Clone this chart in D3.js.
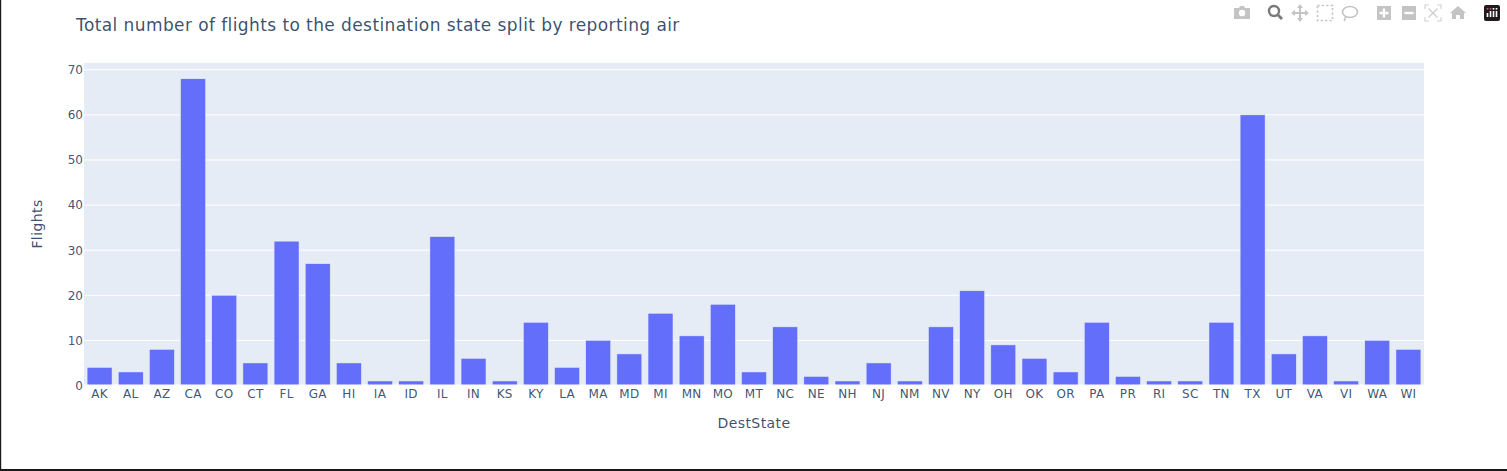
<!DOCTYPE html>
<html>
<head>
<meta charset="utf-8">
<script src="https://d3js.org/d3.v7.min.js"></script>
<style>
  html, body { margin: 0; padding: 0; background: #fff; overflow: hidden; }
  svg { display: block; }
  text { fill: #2a3f5f; fill-opacity: 0.92; }
</style>
</head>
<body>
<svg id="chart"></svg>
<script>
const states = ['AK','AL','AZ','CA','CO','CT','FL','GA','HI','IA','ID','IL','IN','KS','KY','LA','MA','MD','MI','MN','MO','MT','NC','NE','NH','NJ','NM','NV','NY','OH','OK','OR','PA','PR','RI','SC','TN','TX','UT','VA','VI','WA','WI'];
const flights = [4,3,8,68,20,5,32,27,5,1,1,33,6,1,14,4,10,7,16,11,18,3,13,2,1,5,1,13,21,9,6,3,14,2,1,1,14,60,7,11,1,10,8];
const yTicks = [0,10,20,30,40,50,60,70];

const width = 1507, height = 471;
const plot = { left: 84, right: 1424, top: 63, bottom: 385.5 };
const font = '"DejaVu Sans", verdana, sans-serif';

const svg = d3.select('#chart').attr('width', width).attr('height', height);

// page frame, only left and bottom edges show in the screenshot
svg.append('rect').attr('width', width).attr('height', height).attr('fill', '#fff');
svg.append('rect').attr('x', 0).attr('y', 0).attr('width', 1.2).attr('height', height).attr('fill', '#1a1a1a');
svg.append('rect').attr('x', 0).attr('y', 469).attr('width', width).attr('height', 2).attr('fill', '#1a1a1a');

const x = d3.scaleBand()
  .domain(states)
  .range([plot.left, plot.right])
  .paddingInner(0.2)
  .paddingOuter(0.1);

const y = d3.scaleLinear()
  .domain([0, 71.5])
  .range([plot.bottom, plot.top]);

svg.append('rect')
  .attr('x', plot.left).attr('y', plot.top)
  .attr('width', plot.right - plot.left).attr('height', plot.bottom - plot.top)
  .attr('fill', '#e5ecf6');

// gridlines
svg.append('g').selectAll('line')
  .data(yTicks.filter(d => d > 0))
  .enter().append('line')
  .attr('x1', plot.left).attr('x2', plot.right)
  .attr('y1', d => y(d)).attr('y2', d => y(d))
  .attr('stroke', '#fff').attr('stroke-width', 1);

// bars
svg.append('g').selectAll('rect')
  .data(states)
  .enter().append('rect')
  .attr('x', d => x(d))
  .attr('width', x.bandwidth())
  .attr('y', (d, i) => y(flights[i]))
  .attr('height', (d, i) => y(0) - y(flights[i]))
  .attr('fill', '#636efa')
  .attr('stroke', '#e5ecf6')
  .attr('stroke-width', 0.5);

// zero line
svg.append('line')
  .attr('x1', plot.left).attr('x2', plot.right)
  .attr('y1', y(0)).attr('y2', y(0))
  .attr('stroke', '#fff').attr('stroke-width', 2);

// axes
const xAxis = svg.append('g')
  .attr('transform', `translate(0,${plot.bottom})`)
  .call(d3.axisBottom(x).tickSize(0).tickPadding(4));
const yAxis = svg.append('g')
  .attr('transform', `translate(${plot.left},0)`)
  .call(d3.axisLeft(y).tickValues(yTicks).tickSize(0).tickPadding(1));
[xAxis, yAxis].forEach(a => {
  a.select('.domain').remove();
  a.selectAll('text').attr('font-family', font).attr('font-size', 12).style('fill', '#2a3f5f').style('fill-opacity', 0.9);
});
xAxis.selectAll('text').attr('letter-spacing', 0.3);

// titles
svg.append('text').attr('x', 76).attr('y', 31)
  .attr('font-family', font).attr('font-size', 17).attr('letter-spacing', 0.41)
  .text('Total number of flights to the destination state split by reporting air');
svg.append('text').attr('x', 754).attr('y', 428).attr('text-anchor', 'middle')
  .attr('font-family', font).attr('font-size', 14).attr('letter-spacing', 0.4)
  .text('DestState');
svg.append('text').attr('transform', 'translate(42,224) rotate(-90)').attr('text-anchor', 'middle')
  .attr('font-family', font).attr('font-size', 14).attr('letter-spacing', 0.4)
  .text('Flights');

// modebar icons, each drawn around its own centre
const bar = svg.append('g').attr('fill', '#c4c4c4').attr('stroke', 'none');
const icon = (cx, cy) => bar.append('g').attr('transform', `translate(${cx},${cy})`);

const camera = icon(1242, 13);
camera.append('path').attr('d', 'M-8,-5H-3L-2,-7H2L3,-5H8V6H-8Z');
camera.append('circle').attr('r', 3.2).attr('fill', '#fff');

const zoom = icon(1275, 12);
zoom.append('circle').attr('cx', -1).attr('cy', -1).attr('r', 5).attr('fill', 'none').attr('stroke', '#7a7a7a').attr('stroke-width', 2.4);
zoom.append('line').attr('x1', 3).attr('y1', 3).attr('x2', 7).attr('y2', 7).attr('stroke', '#7a7a7a').attr('stroke-width', 2.8);

const pan = icon(1300, 13);
pan.append('path').attr('d', 'M-1,-5H-3L0,-9L3,-5H1V-1H5V-3L9,0L5,3V1H1V5H3L0,9L-3,5H-1V1H-5V3L-9,0L-5,-3V-1H-1Z');

const box = icon(1325, 13);
box.append('rect').attr('x', -7.5).attr('y', -7.5).attr('width', 15).attr('height', 15)
  .attr('fill', 'none').attr('stroke', '#c4c4c4').attr('stroke-width', 1.6).attr('stroke-dasharray', '2.2 2.2');

const lasso = icon(1350, 12);
lasso.append('ellipse').attr('rx', 7.5).attr('ry', 5.5).attr('fill', 'none').attr('stroke', '#c4c4c4').attr('stroke-width', 1.6);
lasso.append('path').attr('d', 'M-4,4C-5,6 -5,8 -6,9').attr('fill', 'none').attr('stroke', '#c4c4c4').attr('stroke-width', 1.6);

const plus = icon(1384, 13);
plus.append('rect').attr('x', -7).attr('y', -7).attr('width', 14).attr('height', 14);
plus.append('path').attr('d', 'M-1.2,-4.5H1.2V-1.2H4.5V1.2H1.2V4.5H-1.2V1.2H-4.5V-1.2H-1.2Z').attr('fill', '#fff');

const minus = icon(1409, 13);
minus.append('rect').attr('x', -7).attr('y', -7).attr('width', 14).attr('height', 14);
minus.append('rect').attr('x', -4.5).attr('y', -1.2).attr('width', 9).attr('height', 2.4).attr('fill', '#fff');

const auto = icon(1433, 13);
auto.append('path').attr('d', 'M-8,-4V-8H-4M4,-8H8V-4M8,4V8H4M-4,8H-8V4').attr('fill', 'none').attr('stroke', '#d0d0d0').attr('stroke-width', 1.1);
auto.append('path').attr('d', 'M-4.5,-4.5L4.5,4.5M4.5,-4.5L-4.5,4.5').attr('fill', 'none').attr('stroke', '#d0d0d0').attr('stroke-width', 1.4);

const home = icon(1458, 13);
home.append('path').attr('d', 'M0,-7L8,0H6V6H2V2H-2V6H-6V0H-8Z');

const logo = icon(1492, 13);
logo.append('rect').attr('x', -8).attr('y', -8).attr('width', 16).attr('height', 16).attr('rx', 2).attr('fill', '#1f1a1c');
[-4.5, -1.5, 1.5, 4.5].forEach((dx, i) => {
  logo.append('rect').attr('x', dx - 0.8).attr('y', i === 0 ? 0 : -2).attr('width', 1.6).attr('height', i === 0 ? 4 : 6).attr('fill', '#fff');
  logo.append('rect').attr('x', dx - 0.8).attr('y', -5).attr('width', 1.6).attr('height', 1.6).attr('fill', i < 2 ? '#e0457b' : '#fff');
});
</script>
</body>
</html>
